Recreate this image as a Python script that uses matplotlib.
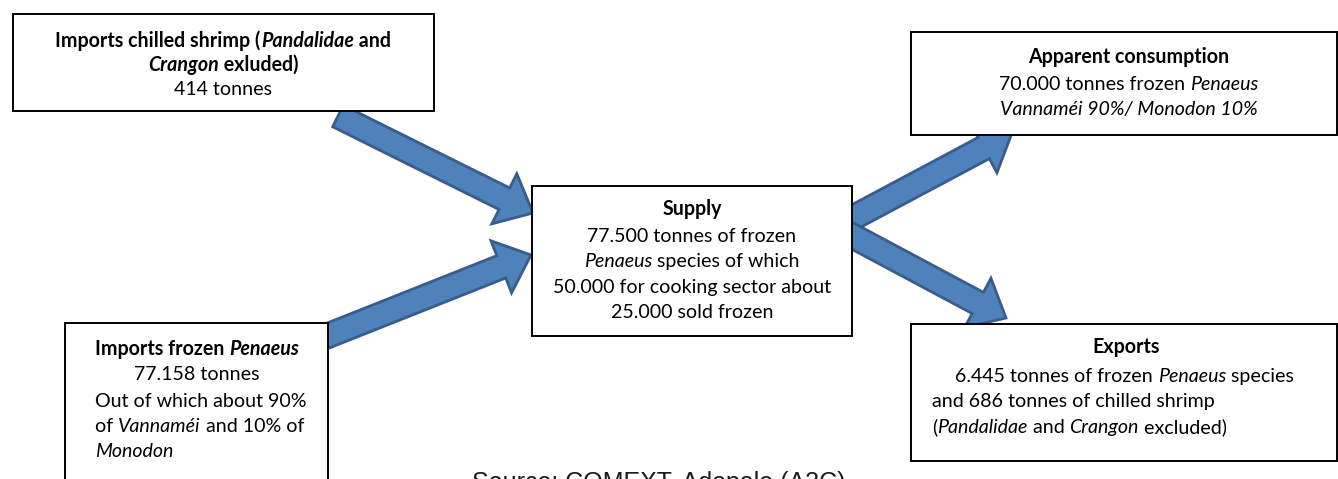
import matplotlib
matplotlib.use("Agg")
import matplotlib.pyplot as plt
from matplotlib.patches import Rectangle, FancyArrow

W, H = 1338, 479
FONT = "Lato"
FS = 14.1

# box texts: each line is a list of (text, bold, italic)
chilled_lines = [
    [("Imports chilled shrimp (", 1, 0), ("Pandalidae", 1, 1), (" and", 1, 0)],
    [("Crangon", 1, 1), (" exluded)", 1, 0)],
    [("414 tonnes", 0, 0)],
]
frozen_lines = [
    [("Imports frozen ", 1, 0), ("Penaeus", 1, 1)],
    [("77.158 tonnes", 0, 0)],
    [("Out of which about 90%", 0, 0)],
    [("of ", 0, 0), ("Vannaméi", 0, 1), (" and 10% of", 0, 0)],
    [("Monodon", 0, 1)],
]
supply_lines = [
    [("Supply", 1, 0)],
    [("77.500 tonnes of frozen", 0, 0)],
    [("Penaeus", 0, 1), (" species of which", 0, 0)],
    [("50.000 for cooking sector about", 0, 0)],
    [("25.000 sold frozen", 0, 0)],
]
consumption_lines = [
    [("Apparent consumption", 1, 0)],
    [("70.000 tonnes frozen ", 0, 0), ("Penaeus", 0, 1)],
    [("Vannaméi 90%/ Monodon 10%", 0, 1)],
]
exports_lines = [
    [("Exports", 1, 0)],
    [("6.445 tonnes of frozen ", 0, 0), ("Penaeus", 0, 1), (" species", 0, 0)],
    [("and 686 tonnes of chilled shrimp", 0, 0)],
    [("(", 0, 0), ("Pandalidae", 0, 1), (" and ", 0, 0), ("Crangon", 0, 1), (" excluded)", 0, 0)],
]
source_text = "Source: COMEXT, Adepale (A3C)"

fig = plt.figure(figsize=(W / 100, H / 100), dpi=100)
ax = fig.add_axes([0, 0, 1, 1])
ax.set_xlim(0, W)
ax.set_ylim(H, 0)
ax.axis("off")
r = fig.canvas.get_renderer()


def style(bold, ital):
    return dict(fontsize=FS, family=FONT, fontweight="bold" if bold else "normal",
                fontstyle="italic" if ital else "normal")


def width(s, bold, ital):
    t = ax.text(0, 0, "|" + s + "|", **style(bold, ital))
    w = t.get_window_extent(r).width
    t.remove()
    t = ax.text(0, 0, "||", **style(bold, ital))
    w -= t.get_window_extent(r).width
    t.remove()
    return w


def draw_line(parts, x, y, ha="center"):
    ws = [width(s, b, i) for s, b, i in parts]
    cx = x - sum(ws) / 2 if ha == "center" else x
    for (s, b, i), w in zip(parts, ws):
        ax.text(cx, y, s, ha="left", va="baseline", zorder=4, **style(b, i))
        cx += w


def box(x0, y0, x1, y1):
    ax.add_patch(Rectangle((x0, y0), x1 - x0, y1 - y0, fc="white", ec="black",
                           lw=1.4, zorder=3))


def arrow(x0, y0, x1, y1):
    ax.add_patch(FancyArrow(x0, y0, x1 - x0, y1 - y0, width=24, head_width=56,
                            head_length=32, length_includes_head=True,
                            fc="#4F81BD", ec="#385D8A", lw=2, zorder=2))


# arrows
arrow(338, 116, 533, 213)
arrow(322, 338, 531, 255)
arrow(845, 222, 1012, 133)
arrow(845, 232, 1006, 318)

# boxes
box(13, 14, 434, 111)
box(65, 323, 328, 495)
box(532, 186, 852, 336)
box(911, 32, 1337, 135)
box(911, 324, 1337, 461)

for line, y in zip(chilled_lines, [47, 71, 95]):
    draw_line(line, 223, y)

for k, (line, y) in enumerate(zip(frozen_lines, [355, 380, 407, 432, 457])):
    if k < 2:
        draw_line(line, 197, y)
    else:
        draw_line(line, 95, y, ha="left")

for line, y in zip(supply_lines, [215, 242, 267, 293, 318]):
    draw_line(line, 692, y)

for line, y in zip(consumption_lines, [63, 90, 115]):
    draw_line(line, 1129, y)

draw_line(exports_lines[0], 1126, 353)
draw_line(exports_lines[1], 955, 382, ha="left")
draw_line(exports_lines[2], 932, 407, ha="left")
draw_line(exports_lines[3], 932, 433, ha="left")

ax.text(659, 490, source_text, ha="center", va="baseline", fontsize=18,
        family="Liberation Sans", color="#1a1a1a", zorder=4)

fig.savefig("out.png", dpi=100)
